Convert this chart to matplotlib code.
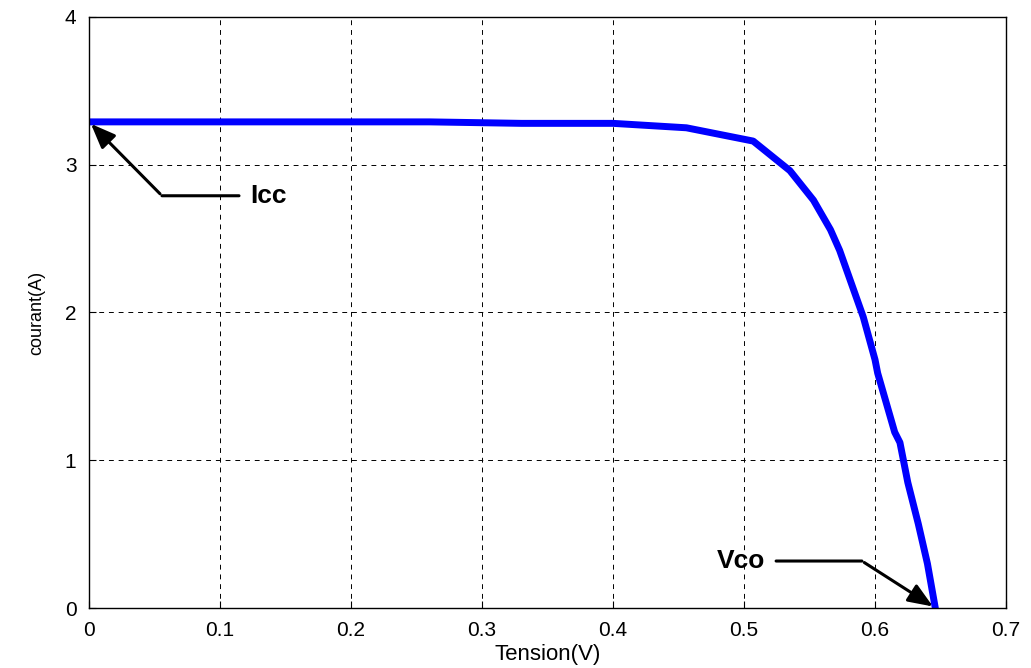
import matplotlib.pyplot as plt

plt.rcParams['font.family'] = ['Liberation Sans', 'DejaVu Sans']

# I-V curve
tension = [0.0, 0.05, 0.10, 0.15, 0.20, 0.26, 0.33, 0.40, 0.456, 0.507,
           0.535, 0.553, 0.566, 0.573, 0.591, 0.600, 0.602, 0.615, 0.619,
           0.625, 0.633, 0.640, 0.646]
courant = [3.29, 3.29, 3.29, 3.29, 3.29, 3.29, 3.28, 3.28, 3.25, 3.16,
           2.96, 2.76, 2.56, 2.42, 1.97, 1.68, 1.59, 1.19, 1.12,
           0.85, 0.57, 0.30, 0.0]

fig = plt.figure(figsize=(10.31, 6.68), dpi=100)
ax = fig.add_axes([0.0863, 0.0898, 0.8895, 0.8848])

ax.plot(tension, courant, color='#0000ff', lw=5, solid_joinstyle='round')

ax.set_xlim(0, 0.7)
ax.set_ylim(0, 4)
ax.set_xticks([0, 0.1, 0.2, 0.3, 0.4, 0.5, 0.6, 0.7])
ax.set_xticklabels(['0', '0.1', '0.2', '0.3', '0.4', '0.5', '0.6', '0.7'])
ax.set_yticks([0, 1, 2, 3, 4])
ax.tick_params(direction='in', length=5, labelsize=15, colors='black')
ax.tick_params(axis='x', pad=9)
ax.tick_params(axis='y', pad=9)
ax.grid(True, color='black', linestyle=(0, (5, 5)), lw=0.7)
for s in ax.spines.values():
    s.set_linewidth(1.0)

ax.set_xlabel('Tension(V)', fontsize=16, labelpad=3)
ax.set_ylabel('courant(A)', fontsize=13, labelpad=14)

head = '-|>,head_length=1.5,head_width=0.6'

# Icc annotation
ax.annotate('', xy=(0.0, 3.29), xytext=(0.0557, 2.79),
            arrowprops=dict(arrowstyle=head, color='black', lw=2.2))
ax.annotate('Icc', xy=(0.0557, 2.79), xytext=(0.123, 2.79),
            fontsize=19, fontweight='bold', va='center', ha='left',
            arrowprops=dict(arrowstyle='-', color='black', lw=2.2, shrinkA=6, shrinkB=0))

# Vco annotation
ax.annotate('', xy=(0.646, 0.0), xytext=(0.590, 0.318),
            arrowprops=dict(arrowstyle=head, color='black', lw=2.2))
ax.annotate('Vco', xy=(0.590, 0.318), xytext=(0.516, 0.318),
            fontsize=19, fontweight='bold', va='center', ha='right',
            arrowprops=dict(arrowstyle='-', color='black', lw=2.2, shrinkA=6, shrinkB=0))

fig.savefig('out.png', dpi=100)
